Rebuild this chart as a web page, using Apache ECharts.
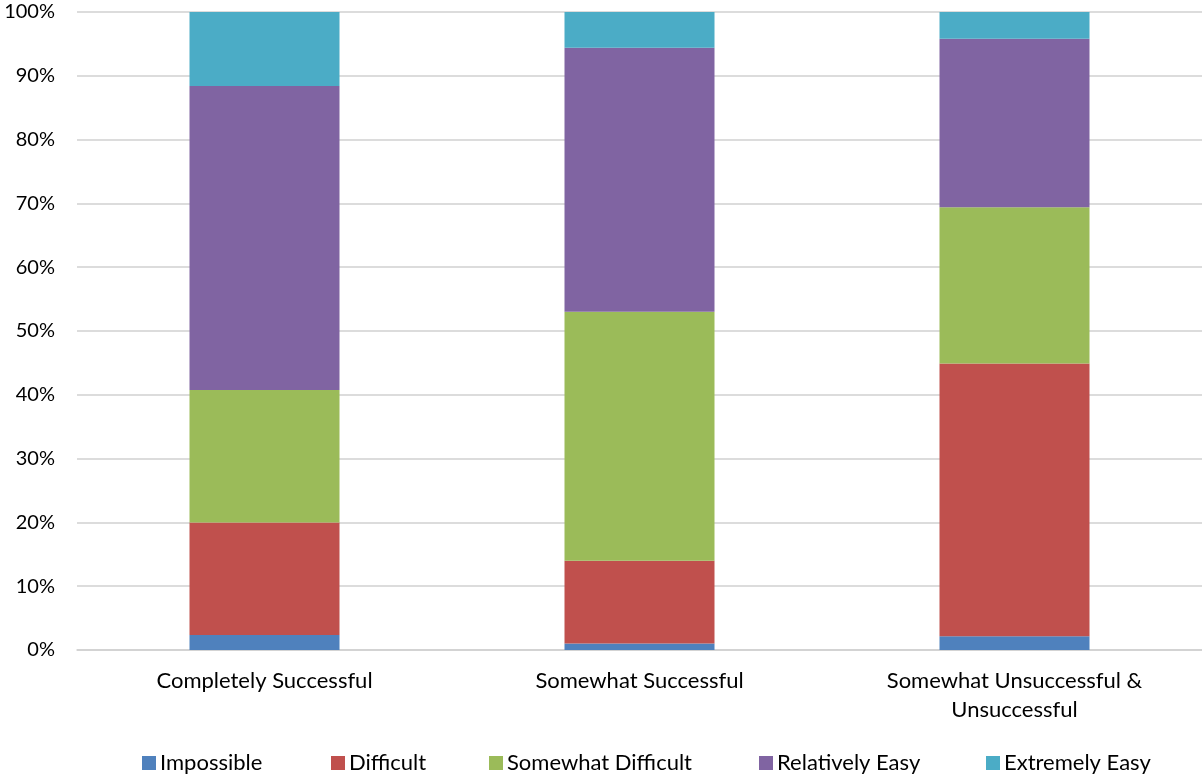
<!DOCTYPE html>
<html>
<head>
<meta charset="utf-8">
<script src="https://cdn.jsdelivr.net/npm/echarts@6/dist/echarts.min.js"></script>
<style>
  html, body { margin: 0; padding: 0; background: #fff; }
  #chart { width: 1202px; height: 778px; }
</style>
</head>
<body>
<div id="chart"></div>
<script>
// Outcome groups along the x axis
const categories = ['Completely Successful', 'Somewhat Successful', 'Somewhat Unsuccessful &\nUnsuccessful'];

// Share of responses (%) per difficulty rating
const impossible        = [2.35, 1.0, 2.15];
const difficult         = [17.65, 13.0, 42.75];
const somewhatDifficult = [20.75, 39.0, 24.5];
const relativelyEasy    = [47.65, 41.4, 26.4];
const extremelyEasy     = [11.6, 5.6, 4.2];

const yTicks = [0, 10, 20, 30, 40, 50, 60, 70, 80, 90, 100];

const seriesDefs = [
  { name: 'Impossible',         data: impossible,        color: '#4F81BD' },
  { name: 'Difficult',          data: difficult,         color: '#C0504D' },
  { name: 'Somewhat Difficult', data: somewhatDifficult, color: '#9BBB59' },
  { name: 'Relatively Easy',    data: relativelyEasy,    color: '#8064A2' },
  { name: 'Extremely Easy',     data: extremelyEasy,     color: '#4BACC6' }
];

const FONT = 'Lato, "Open Sans", sans-serif';
const legendLeft = [142, 331, 489, 759, 986];

const chart = echarts.init(document.getElementById('chart'), null, { renderer: 'canvas' });

chart.setOption({
  animation: false,
  backgroundColor: '#ffffff',
  textStyle: { fontFamily: FONT },
  grid: { left: 77, right: 0, top: 12, bottom: 128, containLabel: false },
  legend: seriesDefs.map((s, i) => ({
    data: [s.name],
    left: legendLeft[i],
    top: 752,
    itemWidth: 14,
    itemHeight: 14,
    itemGap: 0,
    icon: 'rect',
    padding: 0,
    textStyle: { fontFamily: FONT, fontSize: 22, color: '#000', padding: [0, 0, 0, -1] }
  })),
  xAxis: {
    type: 'category',
    data: categories,
    axisTick: { show: false },
    axisLine: { show: true, lineStyle: { color: '#d0d0d0', width: 1.5 } },
    axisLabel: {
      fontFamily: FONT,
      fontSize: 22,
      color: '#000',
      margin: 16,
      lineHeight: 29,
      interval: 0
    }
  },
  yAxis: {
    type: 'value',
    min: 0,
    max: 100,
    interval: 10,
    axisLine: { show: false },
    axisTick: { show: false },
    splitLine: { lineStyle: { color: '#d0d0d0', width: 1.5 } },
    axisLabel: {
      fontFamily: FONT,
      fontSize: 20,
      color: '#000',
      margin: 22,
      customValues: yTicks,
      formatter: v => v + '%'
    }
  },
  series: seriesDefs.map(s => ({
    name: s.name,
    type: 'bar',
    stack: 'total',
    barWidth: 150,
    data: s.data,
    itemStyle: { color: s.color },
    emphasis: { disabled: true }
  }))
});
</script>
</body>
</html>
